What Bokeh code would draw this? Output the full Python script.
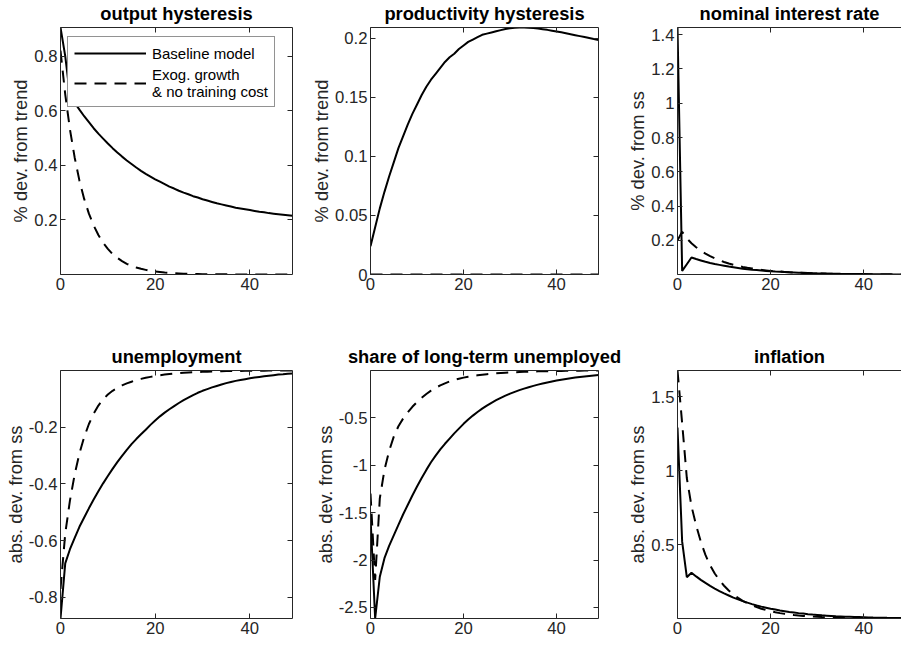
from bokeh.plotting import figure
from bokeh.models import (Range1d, FixedTicker, LinearAxis, Legend,
                          LegendItem, CustomJSTickFormatter, CustomLabelingPolicy)
from bokeh.layouts import gridplot
from bokeh.embed import file_html
from bokeh.resources import INLINE

# ---------------- data (periods 0..49) ----------------
t = list(range(50))

output_base = [0.905, 0.800, 0.656, 0.629, 0.604, 0.580, 0.558, 0.536, 0.516, 0.498,
               0.480, 0.463, 0.447, 0.432, 0.418, 0.405, 0.392, 0.380, 0.369, 0.359,
               0.349, 0.340, 0.331, 0.322, 0.315, 0.307, 0.300, 0.294, 0.287, 0.282,
               0.276, 0.271, 0.266, 0.261, 0.257, 0.253, 0.249, 0.245, 0.242, 0.239,
               0.236, 0.233, 0.230, 0.228, 0.225, 0.223, 0.221, 0.219, 0.217, 0.215]
output_exog = [0.820, 0.660, 0.531, 0.428, 0.344, 0.277, 0.223, 0.180, 0.145, 0.116,
               0.094, 0.075, 0.061, 0.049, 0.039, 0.032, 0.026, 0.021, 0.017, 0.013,
               0.011, 0.009, 0.007, 0.006, 0.005, 0.004, 0.003, 0.0025, 0.002, 0.0017,
               0.0014, 0.0012, 0.0010, 0.0008, 0.0007, 0.0006, 0.0005, 0.0004, 0.0003, 0.0003,
               0.0002, 0.0002, 0.0002, 0.0001, 0.0001, 0.0001, 0.0001, 0.0001, 0.0001, 0.0001]

prod_base = [0.024, 0.040, 0.056, 0.070, 0.083, 0.095, 0.107, 0.117, 0.127, 0.136,
             0.144, 0.152, 0.159, 0.165, 0.170, 0.175, 0.180, 0.184, 0.187, 0.191,
             0.194, 0.197, 0.199, 0.201, 0.203, 0.204, 0.205, 0.206, 0.207, 0.208,
             0.2085, 0.209, 0.2092, 0.2092, 0.209, 0.2087, 0.2083, 0.2078, 0.2072, 0.2065,
             0.2058, 0.2051, 0.2043, 0.2035, 0.2027, 0.2019, 0.2011, 0.2003, 0.1995, 0.1987]
prod_exog = [0.0] * 50

rate_base = [1.442, 0.022, 0.061, 0.100, 0.091, 0.083, 0.075, 0.068, 0.062, 0.057,
             0.052, 0.047, 0.043, 0.039, 0.035, 0.032, 0.029, 0.027, 0.024, 0.022,
             0.020, 0.018, 0.017, 0.015, 0.014, 0.013, 0.0115, 0.0105, 0.0095, 0.0087,
             0.0079, 0.0072, 0.0065, 0.0059, 0.0054, 0.0049, 0.0045, 0.0041, 0.0037, 0.0034,
             0.0031, 0.0028, 0.0025, 0.0023, 0.0021, 0.0019, 0.0017, 0.0016, 0.0015, 0.0013]
rate_exog = [0.200, 0.250, 0.212, 0.183, 0.160, 0.140, 0.123, 0.108, 0.095, 0.084,
             0.074, 0.065, 0.058, 0.051, 0.045, 0.040, 0.036, 0.032, 0.028, 0.025,
             0.022, 0.020, 0.018, 0.016, 0.014, 0.013, 0.011, 0.010, 0.009, 0.008,
             0.007, 0.0065, 0.0058, 0.0052, 0.0046, 0.0041, 0.0037, 0.0033, 0.0029, 0.0026,
             0.0023, 0.0021, 0.0019, 0.0017, 0.0015, 0.0013, 0.0012, 0.0011, 0.0010, 0.0009]

unemp_base = [-0.874, -0.680, -0.630, -0.590, -0.551, -0.518, -0.486, -0.455, -0.426, -0.398,
              -0.372, -0.347, -0.323, -0.301, -0.280, -0.260, -0.242, -0.225, -0.209, -0.192,
              -0.177, -0.162, -0.149, -0.137, -0.126, -0.115, -0.105, -0.096, -0.087, -0.079,
              -0.072, -0.066, -0.060, -0.055, -0.050, -0.045, -0.041, -0.037, -0.034, -0.031,
              -0.028, -0.025, -0.023, -0.021, -0.019, -0.017, -0.015, -0.014, -0.012, -0.011]
unemp_exog = [-0.770, -0.575, -0.458, -0.366, -0.293, -0.235, -0.189, -0.153, -0.124, -0.102,
              -0.085, -0.072, -0.062, -0.053, -0.046, -0.040, -0.034, -0.030, -0.026, -0.023,
              -0.020, -0.017, -0.015, -0.013, -0.011, -0.0098, -0.0086, -0.0075, -0.0066, -0.0058,
              -0.0051, -0.0045, -0.0040, -0.0035, -0.0031, -0.0027, -0.0024, -0.0021, -0.0019, -0.0017,
              -0.0015, -0.0013, -0.0012, -0.0010, -0.0009, -0.0008, -0.0007, -0.0006, -0.0005, -0.0005]

ltu_base = [-1.546, -2.616, -2.176, -1.980, -1.850, -1.740, -1.630, -1.520, -1.420, -1.320,
            -1.225, -1.135, -1.050, -0.970, -0.900, -0.835, -0.775, -0.720, -0.665, -0.615,
            -0.565, -0.520, -0.478, -0.440, -0.405, -0.373, -0.343, -0.316, -0.291, -0.268,
            -0.247, -0.228, -0.210, -0.194, -0.179, -0.165, -0.152, -0.140, -0.129, -0.119,
            -0.109, -0.100, -0.092, -0.084, -0.077, -0.071, -0.065, -0.060, -0.055, -0.050]
ltu_exog = [-1.300, -2.210, -1.350, -1.050, -0.850, -0.700, -0.590, -0.510, -0.445, -0.385,
            -0.335, -0.290, -0.250, -0.215, -0.185, -0.160, -0.138, -0.118, -0.101, -0.089,
            -0.078, -0.068, -0.060, -0.053, -0.047, -0.042, -0.037, -0.033, -0.030, -0.027,
            -0.024, -0.021, -0.019, -0.017, -0.015, -0.014, -0.012, -0.011, -0.010, -0.009,
            -0.008, -0.007, -0.0063, -0.0056, -0.0050, -0.0045, -0.0040, -0.0036, -0.0032, -0.0029]

infl_base = [1.290, 0.520, 0.280, 0.310, 0.285, 0.262, 0.241, 0.221, 0.203, 0.186,
             0.170, 0.156, 0.142, 0.130, 0.118, 0.108, 0.098, 0.089, 0.081, 0.074,
             0.067, 0.061, 0.055, 0.050, 0.045, 0.041, 0.037, 0.034, 0.030, 0.027,
             0.025, 0.022, 0.020, 0.018, 0.016, 0.015, 0.013, 0.012, 0.011, 0.010,
             0.009, 0.008, 0.007, 0.0065, 0.0060, 0.0053, 0.0048, 0.0043, 0.0039, 0.0035]
infl_exog = [1.676, 1.320, 0.950, 0.760, 0.630, 0.520, 0.430, 0.360, 0.305, 0.260,
             0.222, 0.190, 0.163, 0.140, 0.120, 0.104, 0.090, 0.078, 0.067, 0.058,
             0.050, 0.043, 0.037, 0.032, 0.028, 0.024, 0.021, 0.018, 0.0155, 0.0135,
             0.0117, 0.0101, 0.0087, 0.0075, 0.0065, 0.0056, 0.0049, 0.0042, 0.0036, 0.0031,
             0.0027, 0.0023, 0.0020, 0.0017, 0.0015, 0.0013, 0.0011, 0.0010, 0.0008, 0.0007]

x_ticks = [0, 20, 40]
ticks_output = [0.2, 0.4, 0.6, 0.8]
ticks_prod = [0, 0.05, 0.1, 0.15, 0.2]
ticks_rate = [0.2, 0.4, 0.6, 0.8, 1, 1.2, 1.4]
ticks_unemp = [-0.8, -0.6, -0.4, -0.2]
ticks_ltu = [-2.5, -2, -1.5, -1, -0.5]
ticks_infl = [0.5, 1, 1.5]

titles = ["output hysteresis", "productivity hysteresis", "nominal interest rate",
          "unemployment", "share of long-term unemployed", "inflation"]
ylabels = ["% dev. from trend", "% dev. from trend", "% dev. from ss",
           "abs. dev. from ss", "abs. dev. from ss", "abs. dev. from ss"]
legend_labels = ["Baseline model", "Exog. growth\n& no training cost"]

# ---------------- styling ----------------
FONT = "Liberation Sans"
AX = "#262626"
TICK_FS = "16.7px"
LABEL_FS = "18.3px"

fmt_code = "return String(Math.round(tick * 10000) / 10000);"
hide_code = "for (const i of indices) { indices.unset(i) }"


def style_axis(ax, ticks, show_labels):
    ax.ticker = FixedTicker(ticks=ticks)
    ax.formatter = CustomJSTickFormatter(code=fmt_code)
    ax.axis_line_color = AX
    ax.axis_line_width = 1
    ax.major_tick_line_color = AX
    ax.major_tick_line_width = 1
    ax.major_tick_in = 5
    ax.major_tick_out = 0
    ax.minor_tick_line_color = None
    ax.major_label_text_font = FONT
    ax.major_label_text_color = AX
    if show_labels:
        ax.major_label_text_font_size = TICK_FS
        ax.major_label_standoff = 3
    else:
        ax.major_label_text_font_size = "1px"
        ax.major_label_standoff = 0
        ax.major_label_policy = CustomLabelingPolicy(code=hide_code)


def make_panel(idx, base, exog, yticks, width, height, bl, br, bt, bb, xend,
               mirror_right=True):
    ymin = min(min(base), min(exog))
    ymax = max(max(base), max(exog))
    p = figure(width=width, height=height, output_backend="svg",
               toolbar_location=None, x_range=Range1d(0, xend),
               y_range=Range1d(ymin, ymax), x_axis_type=None, y_axis_type=None,
               min_border_left=bl, min_border_right=br,
               min_border_top=bt, min_border_bottom=bb)
    p.outline_line_color = None
    p.background_fill_color = "white"
    p.border_fill_color = "white"

    p.title.text = titles[idx]
    p.title.align = "center"
    p.title.text_font = FONT
    p.title.text_font_size = LABEL_FS
    p.title.text_font_style = "bold"
    p.title.text_color = "black"
    p.title.text_line_height = 0.8
    p.title.standoff = 0

    left = LinearAxis(axis_label=ylabels[idx])
    style_axis(left, yticks, True)
    left.axis_label_text_font = FONT
    left.axis_label_text_font_size = LABEL_FS
    left.axis_label_text_font_style = "normal"
    left.axis_label_text_color = AX
    left.axis_label_standoff = 0
    p.add_layout(left, "left")

    below = LinearAxis()
    style_axis(below, x_ticks, True)
    below.major_label_standoff = 3
    p.add_layout(below, "below")

    above = LinearAxis()
    style_axis(above, x_ticks, False)
    p.add_layout(above, "above")

    if mirror_right:
        right = LinearAxis()
        style_axis(right, yticks, False)
        p.add_layout(right, "right")

    r1 = p.line(t, base, line_color="black", line_width=2)
    r2 = p.line(t, exog, line_color="black", line_width=2, line_dash="12 8")
    return p, r1, r2


# column geometry (Bokeh's page template has no body margin)
W = [308, 316, 277]
BL = [60, 60, 52]
BR = [16, 26, 0]
XEND = [49, 49, 48.1]
# rows
H1, BT1, BB1 = 322, 25, 48
H2, BT2, BB2 = 325, 48, 29

series = [(output_base, output_exog, ticks_output),
          (prod_base, prod_exog, ticks_prod),
          (rate_base, rate_exog, ticks_rate),
          (unemp_base, unemp_exog, ticks_unemp),
          (ltu_base, ltu_exog, ticks_ltu),
          (infl_base, infl_exog, ticks_infl)]

panels = []
first = None
for i, (b, e, yt) in enumerate(series):
    c = i % 3
    if i < 3:
        h, bt, bb = H1, BT1, BB1
    else:
        h, bt, bb = H2, BT2, BB2
    p, r1, r2 = make_panel(i, b, e, yt, W[c], h, BL[c], BR[c], bt, bb,
                           XEND[c], mirror_right=(c != 2))
    if i == 0:
        first = (p, r1, r2)
    panels.append(p)

p0, r1, r2 = first
legend = Legend(items=[LegendItem(label=legend_labels[0], renderers=[r1]),
                       LegendItem(label=legend_labels[1], renderers=[r2])],
                location=(7, 167))
legend.border_line_color = AX
legend.border_line_width = 1
legend.background_fill_color = "white"
legend.background_fill_alpha = 1.0
legend.label_text_font = FONT
legend.label_text_font_size = "15px"
legend.label_text_color = "black"
legend.label_text_line_height = 1.5
legend.glyph_width = 72
legend.label_standoff = 6
legend.padding = 6
legend.spacing = 3
legend.margin = 0
p0.add_layout(legend)

grid = gridplot([panels[:3], panels[3:]], toolbar_location=None)

open("out.html", "w").write(file_html(grid, INLINE))
